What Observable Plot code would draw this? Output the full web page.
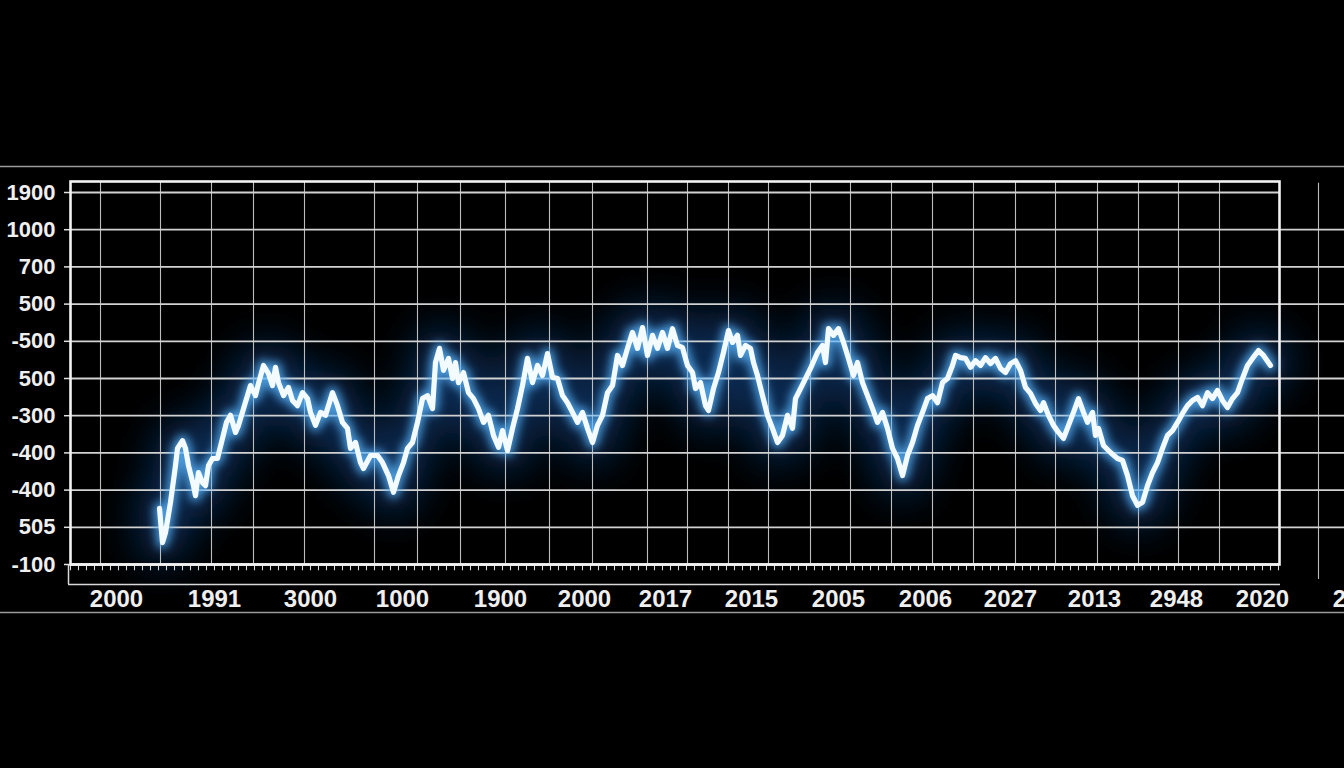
<!DOCTYPE html>
<html>
<head>
<meta charset="utf-8">
<script src="https://cdn.jsdelivr.net/npm/d3@7"></script>
<script src="https://cdn.jsdelivr.net/npm/@observablehq/plot@0.6"></script>
<style>
  html, body { margin: 0; padding: 0; background: #000; }
  #chart svg { display: block; }
</style>
</head>
<body>
<div id="chart"></div>
<script>
// ---- Data ----
// y tick labels, bottom (index 0) to top (index 10)
const yLabels = ["-100", "505", "-400", "-400", "-300", "500", "-500", "500", "700", "1000", "1900"];
const yTicks = [0, 1, 2, 3, 4, 5, 6, 7, 8, 9, 10];

// x tick labels and their positions (x units)
const xLabels = ["2000", "1991", "3000", "1000", "1900", "2000", "2017", "2015", "2005", "2006", "2027", "2013", "2948", "2020", "2024"];
const xLabelPos = [4.6, 14.4, 24.0, 33.2, 43.0, 51.4, 59.5, 68.1, 76.8, 85.5, 94.0, 102.4, 110.6, 119.2, 128.9];

// vertical grid positions (x units)
const xGrid = [3.0, 9.0, 14.1, 18.3, 23.4, 30.4, 34.7, 39.0, 43.5, 47.9, 52.2, 57.7, 61.7, 65.8, 69.8, 74.0, 78.0, 82.1, 86.2, 90.3, 94.5, 98.5, 102.7, 106.8, 110.8, 114.9];

// the glowing series
const seriesX = [8.9, 9.2, 9.5, 10.0, 10.5, 10.7, 11.2, 11.5, 11.8, 12.3, 12.5, 12.8, 13.2, 13.5, 13.8, 14.2, 14.7, 15.2, 15.6, 16.0,
  16.5, 16.8, 17.3, 18.0, 18.5, 18.8, 19.3, 19.8, 20.2, 20.5, 20.8, 21.3, 21.8, 22.2, 22.7, 23.2, 23.7, 24.0, 24.5, 25.0,
  25.5, 26.2, 26.7, 27.2, 27.7, 28.0, 28.5, 29.0, 29.3, 30.0, 30.7, 31.2, 31.8, 32.3, 32.8, 33.3, 33.7, 34.2, 34.7, 35.2,
  35.7, 36.2, 36.5, 36.9, 37.3, 37.8, 38.2, 38.5, 38.8, 39.3, 39.8, 40.3, 40.8, 41.3, 41.8, 42.3, 42.8, 43.2, 43.7, 44.2,
  44.7, 45.2, 45.7, 46.2, 46.7, 47.2, 47.7, 48.2, 48.7, 49.2, 49.7, 50.2, 50.7, 51.2, 51.7, 52.2, 52.7, 53.2, 53.7, 54.2,
  54.7, 55.2, 55.7, 56.2, 56.7, 57.2, 57.7, 58.2, 58.7, 59.2, 59.7, 60.2, 60.7, 61.2, 61.7, 62.2, 62.5, 63.0, 63.5, 63.8,
  64.3, 64.8, 65.3, 65.8, 66.2, 66.7, 67.0, 67.5, 68.0, 68.3, 68.7, 69.2, 69.7, 70.2, 70.7, 71.2, 71.7, 72.2, 72.5, 73.3,
  74.0, 74.7, 75.2, 75.5, 75.8, 76.3, 76.8, 77.3, 77.8, 78.3, 78.7, 79.2, 79.7, 80.2, 80.7, 81.2, 81.7, 82.2, 82.7, 83.2,
  83.7, 84.2, 84.7, 85.2, 85.7, 86.2, 86.7, 87.2, 87.7, 88.2, 88.5, 89.0, 89.5, 90.0, 90.5, 91.0, 91.5, 92.0, 92.5, 93.0,
  93.5, 94.0, 94.5, 95.0, 95.5, 96.0, 96.5, 97.0, 97.3, 97.8, 98.3, 98.8, 99.3, 99.8, 100.3, 100.8, 101.3, 101.7, 102.2, 102.5,
  102.8, 103.3, 104.0, 104.7, 105.2, 105.7, 106.2, 106.7, 107.2, 107.7, 108.2, 108.7, 109.2, 109.7, 110.2, 110.7, 111.2, 111.7, 112.2, 112.7,
  113.2, 113.7, 114.2, 114.7, 115.2, 115.7, 116.2, 116.7, 117.2, 117.7, 118.2, 118.8, 119.3, 120.0];
const seriesY = [1.51, 0.59, 0.86, 1.67, 2.66, 3.12, 3.33, 3.12, 2.66, 2.12, 1.85, 2.47, 2.20, 2.12, 2.66, 2.85, 2.85, 3.39, 3.82, 4.01,
  3.55, 3.74, 4.19, 4.81, 4.54, 4.87, 5.35, 5.13, 4.81, 5.30, 4.89, 4.54, 4.76, 4.41, 4.27, 4.62, 4.46, 4.09, 3.74, 4.09,
  4.01, 4.62, 4.27, 3.82, 3.66, 3.12, 3.28, 2.74, 2.58, 2.93, 2.93, 2.74, 2.39, 1.94, 2.39, 2.74, 3.12, 3.28, 3.82, 4.46,
  4.54, 4.19, 5.43, 5.81, 5.22, 5.54, 5.00, 5.43, 4.89, 5.16, 4.62, 4.46, 4.19, 3.82, 4.01, 3.47, 3.15, 3.60, 3.06, 3.66,
  4.19, 4.81, 5.54, 4.89, 5.35, 5.08, 5.67, 5.03, 5.00, 4.54, 4.35, 4.09, 3.82, 4.09, 3.66, 3.28, 3.74, 4.01, 4.62, 4.81,
  5.62, 5.35, 5.81, 6.24, 5.81, 6.37, 5.62, 6.16, 5.81, 6.24, 5.81, 6.34, 5.89, 5.83, 5.35, 5.16, 4.73, 4.89, 4.27, 4.14,
  4.73, 5.16, 5.70, 6.29, 5.97, 6.16, 5.62, 5.89, 5.81, 5.43, 5.08, 4.54, 4.01, 3.66, 3.28, 3.47, 4.01, 3.66, 4.46, 4.89,
  5.27, 5.70, 5.89, 5.43, 6.34, 6.16, 6.34, 5.97, 5.54, 5.08, 5.43, 4.89, 4.54, 4.19, 3.82, 4.09, 3.66, 3.12, 2.85, 2.39,
  2.93, 3.28, 3.74, 4.09, 4.46, 4.54, 4.35, 4.89, 5.00, 5.35, 5.62, 5.56, 5.54, 5.30, 5.48, 5.35, 5.56, 5.40, 5.54, 5.27,
  5.16, 5.40, 5.48, 5.22, 4.76, 4.60, 4.33, 4.14, 4.35, 4.01, 3.74, 3.55, 3.39, 3.74, 4.09, 4.46, 4.09, 3.82, 4.09, 3.47,
  3.66, 3.20, 3.01, 2.85, 2.80, 2.39, 1.85, 1.59, 1.67, 2.12, 2.47, 2.74, 3.12, 3.47, 3.60, 3.82, 4.06, 4.27, 4.41, 4.49,
  4.27, 4.62, 4.46, 4.68, 4.41, 4.22, 4.46, 4.62, 5.00, 5.35, 5.54, 5.75, 5.62, 5.35];

const series = seriesX.map((x, i) => ({x, y: seriesY[i]}));
const minorTicks = d3.range(0, 121, 0.8);
const innerGrid = [1, 2, 3, 4, 5, 6, 7, 8, 9];

const FONT = "'Liberation Sans', Arial, Helvetica, sans-serif";
const X0 = 0, X1 = 120.9, Y1 = 10.296;

const chart = Plot.plot({
  width: 1344,
  height: 768,
  marginLeft: 70,
  marginRight: 65,
  marginTop: 181,
  marginBottom: 204,
  style: {background: "#000", color: "#eee", fontFamily: FONT, overflow: "visible"},
  x: {domain: [X0, X1], axis: null},
  y: {domain: [0, Y1], axis: null},
  marks: [
    // wide ambient haze under the trace
    Plot.line(series, {x: "x", y: "y", stroke: "#1863c4", strokeWidth: 44, strokeOpacity: 0.42, strokeLinejoin: "round", strokeLinecap: "round"}),
    // outer decorative rules
    Plot.ruleY([10.70, -1.29], {x1: -7.1, x2: 127.5, stroke: "#9a9a9a", strokeWidth: 1.5}),
    // axis box under the plot
    Plot.ruleY([-0.54], {x1: -0.2, x2: 121.0, stroke: "#d8d8d8", strokeWidth: 1.5}),
    Plot.ruleX([-0.2], {y1: 0, y2: -0.54, stroke: "#d8d8d8", strokeWidth: 1.5}),
    // vertical grid
    Plot.ruleX(xGrid, {y1: 0, y2: Y1, stroke: "#bdbdbd", strokeWidth: 1.1}),
    Plot.ruleX([124.8], {y1: -0.4, y2: 10.25, stroke: "#bdbdbd", strokeWidth: 1.1}),
    // horizontal grid
    Plot.ruleY([10], {x1: X0, x2: X1, stroke: "#d2d2d2", strokeWidth: 1.8}),
    Plot.ruleY(innerGrid, {x1: X0, x2: 127.5, stroke: "#d2d2d2", strokeWidth: 1.8}),
    // minor ticks under the bottom rule
    Plot.ruleX(minorTicks, {y1: 0, y2: -0.17, stroke: "#d8d8d8", strokeWidth: 1.1}),
    // y ticks
    Plot.ruleY(yTicks, {x1: -0.6, x2: 0, stroke: "#e0e0e0", strokeWidth: 1.5}),
    // frame and bottom rule
    Plot.frame({stroke: "#f2f2f2", strokeWidth: 2.6}),
    Plot.ruleY([0], {x1: X0, x2: X1, stroke: "#f2f2f2", strokeWidth: 2.4}),
    // glow and core of the trace
    Plot.line(series, {x: "x", y: "y", stroke: "#5ab6ff", strokeWidth: 12, strokeOpacity: 0.8, strokeLinejoin: "round", strokeLinecap: "round"}),
    Plot.line(series, {x: "x", y: "y", stroke: "#f4fbff", strokeWidth: 5.2, strokeLinejoin: "round", strokeLinecap: "round"}),
    // labels
    Plot.text(yTicks, {x: -1.5, y: d => d, text: d => yLabels[d], textAnchor: "end", fill: "#efefef", fontSize: 22, fontWeight: "bold"}),
    Plot.text(xLabelPos, {x: d => d, y: -0.94, text: (d, i) => xLabels[i], fill: "#efefef", fontSize: 24, fontWeight: "bold"})
  ]
});

// glow filters applied to the library's own line paths
const svg = d3.select(chart);
const defs = svg.insert("defs", ":first-child");
defs.append("filter").attr("id", "haze").attr("x", "-20%").attr("y", "-50%").attr("width", "140%").attr("height", "200%")
  .append("feGaussianBlur").attr("stdDeviation", 20);
defs.append("filter").attr("id", "glow").attr("x", "-20%").attr("y", "-50%").attr("width", "140%").attr("height", "200%")
  .append("feGaussianBlur").attr("stdDeviation", 5);
defs.append("filter").attr("id", "soft").attr("x", "-20%").attr("y", "-50%").attr("width", "140%").attr("height", "200%")
  .append("feGaussianBlur").attr("stdDeviation", 0.7);
const lines = svg.selectAll('g[aria-label="line"]').nodes();
if (lines[0]) d3.select(lines[0]).attr("filter", "url(#haze)");
if (lines[1]) d3.select(lines[1]).attr("filter", "url(#glow)");
if (lines[2]) d3.select(lines[2]).attr("filter", "url(#soft)");

document.getElementById("chart").appendChild(chart);
</script>
</body>
</html>
